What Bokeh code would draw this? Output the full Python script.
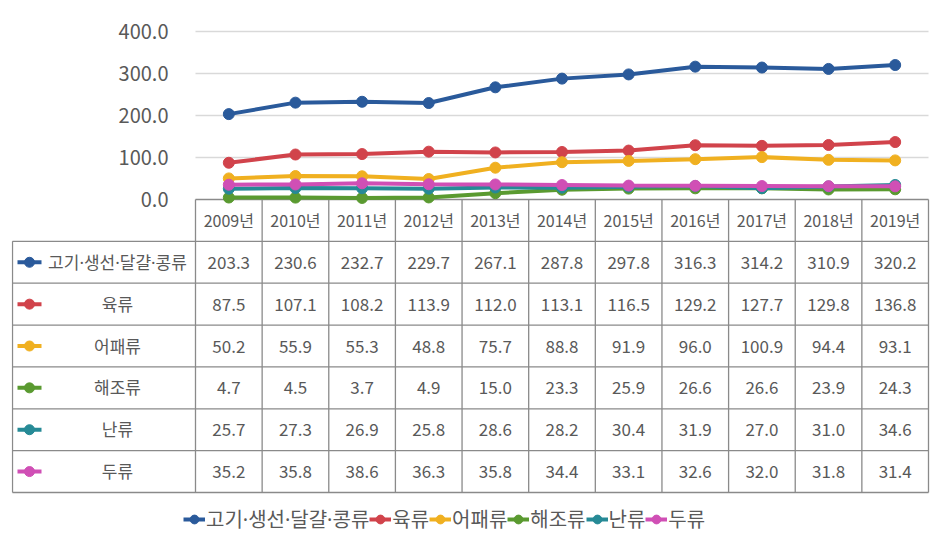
from bokeh.plotting import figure
from bokeh.models import (Range1d, LinearAxis, FixedTicker, NumeralTickFormatter,
                          Grid, Legend, LegendItem)
from bokeh.core.properties import value
from bokeh.embed import file_html
from bokeh.resources import INLINE

# ---------------- data ----------------
years = ["2009년", "2010년", "2011년", "2012년", "2013년", "2014년",
         "2015년", "2016년", "2017년", "2018년", "2019년"]
series_names = ["고기·생선·달걀·콩류", "육류", "어패류", "해조류", "난류", "두류"]
meat_fish_egg_bean = [203.3, 230.6, 232.7, 229.7, 267.1, 287.8, 297.8, 316.3, 314.2, 310.9, 320.2]
meat = [87.5, 107.1, 108.2, 113.9, 112.0, 113.1, 116.5, 129.2, 127.7, 129.8, 136.8]
shellfish = [50.2, 55.9, 55.3, 48.8, 75.7, 88.8, 91.9, 96.0, 100.9, 94.4, 93.1]
seaweed = [4.7, 4.5, 3.7, 4.9, 15.0, 23.3, 25.9, 26.6, 26.6, 23.9, 24.3]
eggs = [25.7, 27.3, 26.9, 25.8, 28.6, 28.2, 30.4, 31.9, 27.0, 31.0, 34.6]
beans = [35.2, 35.8, 38.6, 36.3, 35.8, 34.4, 33.1, 32.6, 32.0, 31.8, 31.4]
y_ticks = [0, 100, 200, 300, 400]

series_values = [meat_fish_egg_bean, meat, shellfish, seaweed, eggs, beans]
colors = ["#2a5a9b", "#d1434b", "#f0b020", "#5a9a30", "#268a96", "#d04fb5"]

FONT = "Noto Sans CJK KR"
MIX_FONT = "'Noto Sans', 'Noto Sans CJK KR'"
TXT = "#595959"
LINE_GREY = "#8a8a8a"

# ---------------- layout geometry (page pixels) ----------------
OFF = 0                              # page offset of the figure
W, H = 936, 548
FRAME_L, FRAME_R = 11, 930          # page x of frame edges
FRAME_T, FRAME_B = 4, 548           # page y of frame edges
Y400 = 31                           # page y of the 400 tick
COL0, COLN = 195, 928               # data columns span
TAB_TOP, TAB_BOT = 199, 492         # table top / bottom
n = len(years)
px_col = (COLN - COL0) / n
px_row = (TAB_BOT - TAB_TOP) / 7.0
px_val = (TAB_TOP - Y400) / 400.0

x_start = -0.5 - (COL0 - FRAME_L) / px_col
x_end = n - 0.5 + (FRAME_R - COLN) / px_col
row_start = (FRAME_B - TAB_TOP) / px_row
row_end = (FRAME_T - TAB_TOP) / px_row
val_start = -(FRAME_B - TAB_TOP) / px_val
val_end = (TAB_TOP - FRAME_T) / px_val

p = figure(width=W, height=H, output_backend="svg", toolbar_location=None,
           x_range=Range1d(x_start, x_end), y_range=Range1d(row_start, row_end),
           x_axis_type=None, y_axis_type=None,
           min_border_left=FRAME_L - OFF, min_border_right=W - (FRAME_R - OFF),
           min_border_top=FRAME_T - OFF, min_border_bottom=H - (FRAME_B - OFF),
           outline_line_color=None)
p.extra_y_ranges = {"val": Range1d(val_start, val_end)}

# y axis of the chart, fixed at the left edge of the data columns
axis = LinearAxis(y_range_name="val", fixed_location=-0.5,
                  ticker=FixedTicker(ticks=y_ticks),
                  formatter=NumeralTickFormatter(format="0.0"),
                  axis_line_color=None, major_tick_line_color=None,
                  minor_tick_line_color=None, major_label_standoff=21,
                  major_label_text_font_size="20px",
                  major_label_text_color=TXT,
                  major_label_text_font=FONT, bounds=(0, 400))
p.add_layout(axis, "left")

grid = Grid(dimension=1, y_range_name="val",
            ticker=FixedTicker(ticks=y_ticks[1:]),
            grid_line_color="#d9d9d9", grid_line_width=1.5,
            cross_bounds=(-0.5, n - 0.5))
p.add_layout(grid)

# ---------------- table ----------------
idx = list(range(n))
left_edge = -0.5 - (COL0 - 12) / px_col
p.segment(x0=[-0.5], y0=[0], x1=[n - 0.5], y1=[0], line_color=LINE_GREY, line_width=1.3)
p.segment(x0=[left_edge] * 7, y0=list(range(1, 8)), x1=[n - 0.5] * 7, y1=list(range(1, 8)),
          line_color=LINE_GREY, line_width=1.3)
p.segment(x0=[left_edge], y0=[1], x1=[left_edge], y1=[7], line_color=LINE_GREY, line_width=1.3)
vx = [i - 0.5 for i in range(n + 1)]
p.segment(x0=vx, y0=[0] * len(vx), x1=vx, y1=[7] * len(vx), line_color=LINE_GREY, line_width=1.3)

p.text(x=idx, y=[0.5] * n, text=years, text_align="center", text_baseline="middle",
       text_font=value(FONT), text_font_size="16px", text_color=TXT)

label_x = -0.5 - (COL0 - 117) / px_col
key_x0 = -0.5 - (COL0 - 17) / px_col
key_x1 = -0.5 - (COL0 - 41) / px_col
key_xc = (key_x0 + key_x1) / 2

for k, (name, vals, c) in enumerate(zip(series_names, series_values, colors)):
    yrow = k + 1.5
    p.text(x=idx, y=[yrow] * n, text=[f"{v:.1f}" for v in vals], text_align="center",
           text_baseline="middle", text_font=value(FONT), text_font_size="17px", text_color=TXT)
    p.text(x=[label_x], y=[yrow], text=[name], text_align="center", text_baseline="middle",
           text_font=value(MIX_FONT), text_font_size="17px", text_color=TXT)
    p.line(x=[key_x0, key_x1], y=[yrow, yrow], line_color=c, line_width=4)
    p.scatter(x=[key_xc], y=[yrow], size=10, fill_color=c, line_color=c)

# ---------------- chart lines ----------------
items = []
for name, vals, c in zip(series_names, series_values, colors):
    lr = p.line(x=idx, y=vals, y_range_name="val", line_color=c, line_width=4)
    sr = p.scatter(x=idx, y=vals, y_range_name="val", size=11, fill_color=c, line_color=c)
    items.append(LegendItem(label=name, renderers=[lr, sr]))

legend = Legend(items=items, orientation="horizontal",
                location=(183 - FRAME_L, FRAME_B - 522 - 11),
                border_line_color=None, background_fill_alpha=0, padding=0, margin=0,
                spacing=0, glyph_width=22, glyph_height=22, label_standoff=1,
                label_height=22, label_text_font_size="20px", label_text_color=TXT,
                label_text_font=MIX_FONT)
p.add_layout(legend, "center")

open("out.html", "w").write(file_html(p, INLINE))
